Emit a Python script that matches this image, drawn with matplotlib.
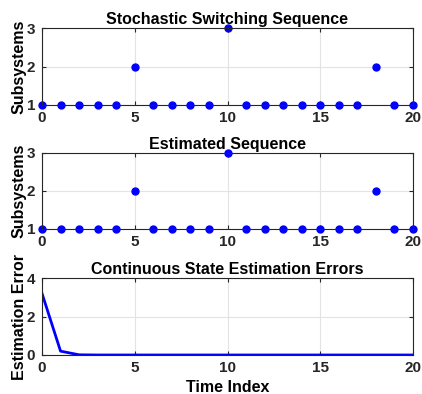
import numpy as np
import matplotlib
matplotlib.use("Agg")
import matplotlib.pyplot as plt

plt.rcParams['font.family'] = ['Liberation Sans', 'DejaVu Sans']
plt.rcParams['font.weight'] = 'bold'

# Data
time_index = list(range(21))
true_mode = [1, 1, 1, 1, 1, 2, 1, 1, 1, 1, 3, 1, 1, 1, 1, 1, 1, 1, 2, 1, 1]
est_mode = [1, 1, 1, 1, 1, 2, 1, 1, 1, 1, 3, 1, 1, 1, 1, 1, 1, 1, 2, 1, 1]
est_error = [3.2, 0.2, 0.01, 0.0, 0.0, 0.0, 0.0, 0.0, 0.0, 0.0, 0.0,
             0.0, 0.0, 0.0, 0.0, 0.0, 0.0, 0.0, 0.0, 0.0, 0.0]

W, H = 422, 394
fig = plt.figure(figsize=(W / 100, H / 100), dpi=100)


def make_axes(left, top, right, bottom):
    return fig.add_axes([left / W, 1 - bottom / H, (right - left) / W, (bottom - top) / H])


def style(ax):
    for s in ax.spines.values():
        s.set_color('#262626')
        s.set_linewidth(0.8)
    ax.tick_params(direction='in', length=3, width=0.8, colors='#262626',
                   labelsize=11, top=True, right=True, labeltop=False, labelright=False)
    ax.tick_params(axis='x', pad=4)
    ax.tick_params(axis='y', pad=5)
    ax.grid(True, color='#e3e3e3', linewidth=0.8)
    ax.set_axisbelow(True)
    for lbl in ax.get_xticklabels() + ax.get_yticklabels():
        lbl.set_fontweight('bold')


ax1 = make_axes(42, 28, 413, 105)
ax1.plot(time_index, true_mode, 'o', color='blue', markersize=5, clip_on=False)
ax1.set_xlim(0, 20)
ax1.set_ylim(1, 3)
ax1.set_xticks([0, 5, 10, 15, 20])
ax1.set_yticks([1, 2, 3])
ax1.set_title('Stochastic Switching Sequence', fontsize=11.5, fontweight='bold', pad=3)
ax1.set_ylabel('Subsystems', fontsize=11.5, fontweight='bold', labelpad=0)
style(ax1)

ax2 = make_axes(42, 153, 413, 229)
ax2.plot(time_index, est_mode, 'o', color='blue', markersize=5, clip_on=False)
ax2.set_xlim(0, 20)
ax2.set_ylim(1, 3)
ax2.set_xticks([0, 5, 10, 15, 20])
ax2.set_yticks([1, 2, 3])
ax2.set_title('Estimated Sequence', fontsize=11.5, fontweight='bold', pad=3)
ax2.set_ylabel('Subsystems', fontsize=11.5, fontweight='bold', labelpad=0)
style(ax2)

ax3 = make_axes(42, 278, 413, 355)
ax3.plot(time_index, est_error, '-', color='blue', linewidth=2)
ax3.set_xlim(0, 20)
ax3.set_ylim(0, 4)
ax3.set_xticks([0, 5, 10, 15, 20])
ax3.set_yticks([0, 2, 4])
ax3.set_title('Continuous State Estimation Errors', fontsize=11.5, fontweight='bold', pad=3)
ax3.set_ylabel('Estimation Error', fontsize=11.5, fontweight='bold', labelpad=0)
ax3.set_xlabel('Time Index', fontsize=11.5, fontweight='bold', labelpad=4)
style(ax3)

fig.savefig('out.png', dpi=100)
